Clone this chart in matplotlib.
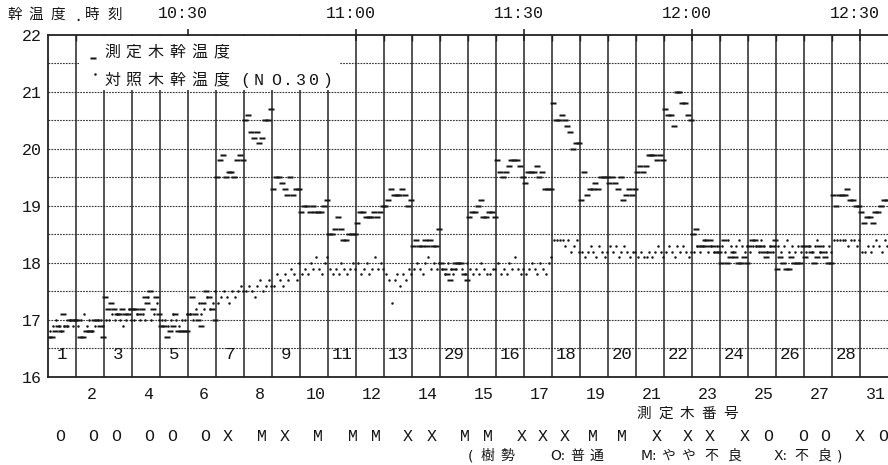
import numpy as np
import matplotlib
matplotlib.use('Agg')
import matplotlib.pyplot as plt
from matplotlib.patches import Rectangle
from matplotlib.transforms import blended_transform_factory

W, H = 888, 465
CJK = ['Noto Sans CJK JP', 'DejaVu Sans']
MONO = ['Liberation Mono', 'DejaVu Sans Mono']

# ---------------- data ----------------
# tree number measured in each 5-minute segment (10:05 .. 12:35)
seg_trees = [1, 2, 3, 4, 5, 6, 7, 8, 9, 10, 11, 12, 13, 14, 29,
             15, 16, 17, 18, 19, 20, 21, 22, 23, 24, 25, 26, 27, 28, 31]
# tree vigor (O: normal, M: slightly poor, X: poor)
vigor = list("OOOOOOXMXMMMXXMMXXXMMXXXXOOOXO")
time_ticks = [30, 60, 90, 120, 150]          # minutes after 10:00
time_labels = ['10:30', '11:00', '11:30', '12:00', '12:30']
y_ticks = [16, 17, 18, 19, 20, 21, 22]

# measured tree stem temperature (10 readings per segment)
measured = [
    [16.7, 16.7, 16.8, 16.9, 16.8, 17.1, 16.9, 17.0, 17.0, 17.0],
    [17.0, 16.7, 16.7, 16.8, 16.8, 16.8, 17.0, 17.0, 16.9, 16.7],
    [17.4, 17.2, 17.3, 17.2, 17.1, 17.1, 17.2, 17.1, 17.1, 17.2],
    [17.2, 17.2, 17.1, 17.2, 17.4, 17.3, 17.5, 17.2, 17.4, 17.1],
    [16.9, 16.9, 16.7, 16.8, 16.9, 17.1, 16.8, 16.8, 16.8, 16.8],
    [17.1, 17.4, 17.1, 17.0, 16.9, 17.3, 17.5, 17.4, 17.2, 17.0],
    [19.5, 19.8, 19.9, 19.5, 19.6, 19.6, 19.5, 19.8, 19.9, 19.8],
    [20.5, 20.6, 20.3, 20.2, 20.3, 20.1, 20.2, 20.5, 20.5, 20.7],
    [19.3, 19.5, 19.5, 19.4, 19.3, 19.2, 19.5, 19.2, 19.3, 19.3],
    [18.9, 19.0, 19.0, 18.9, 19.0, 18.9, 18.9, 18.9, 19.0, 19.1],
    [18.5, 18.5, 18.6, 18.8, 18.6, 18.4, 18.4, 18.5, 18.5, 18.5],
    [18.7, 18.9, 18.9, 18.8, 18.8, 18.8, 18.9, 18.8, 18.9, 19.0],
    [19.0, 19.1, 19.3, 19.2, 19.2, 19.2, 19.3, 19.2, 19.0, 19.1],
    [18.3, 18.4, 18.3, 18.3, 18.4, 18.3, 18.4, 18.3, 18.3, 18.6],
    [18.0, 17.9, 17.8, 17.7, 17.9, 18.0, 18.0, 18.0, 17.8, 17.7],
    [18.8, 18.9, 18.9, 19.0, 19.1, 18.8, 18.8, 18.9, 18.9, 18.8],
    [19.8, 19.6, 19.5, 19.6, 19.7, 19.8, 19.8, 19.8, 19.7, 19.5],
    [19.4, 19.6, 19.6, 19.6, 19.7, 19.5, 19.6, 19.3, 19.3, 19.3],
    [20.8, 20.5, 20.5, 20.6, 20.5, 20.4, 20.3, 20.0, 20.1, 20.1],
    [19.1, 19.6, 19.2, 19.3, 19.3, 19.4, 19.3, 19.5, 19.5, 19.5],
    [19.4, 19.5, 19.4, 19.3, 19.5, 19.1, 19.2, 19.3, 19.2, 19.3],
    [19.6, 19.7, 19.6, 19.7, 19.9, 19.9, 19.9, 19.8, 19.9, 19.8],
    [20.7, 20.6, 20.6, 20.4, 21.0, 21.0, 20.8, 20.8, 20.6, 20.5],
    [18.5, 18.6, 18.3, 18.3, 18.4, 18.3, 18.4, 18.3, 18.2, 18.2],
    [18.0, 18.4, 18.0, 18.1, 18.2, 18.1, 18.0, 18.0, 18.1, 18.0],
    [18.3, 18.4, 18.4, 18.3, 18.3, 18.2, 18.1, 18.2, 18.3, 18.4],
    [17.9, 18.1, 18.0, 17.9, 17.9, 18.1, 18.0, 18.0, 18.0, 18.3],
    [18.1, 18.3, 18.2, 18.0, 18.1, 18.3, 18.2, 18.1, 18.0, 18.0],
    [19.2, 19.0, 19.2, 19.2, 19.2, 19.3, 19.1, 19.1, 19.0, 19.0],
    [18.9, 18.7, 18.8, 18.8, 18.7, 18.9, 18.9, 19.0, 19.1, 19.1],
]

# control tree (NO.30) stem temperature
control = [
    [16.8, 16.9, 17.0, 16.9, 16.8, 16.9, 16.9, 17.0, 16.9, 17.0],
    [16.9, 17.0, 17.1, 16.9, 17.0, 16.8, 16.9, 17.0, 17.0, 16.9],
    [17.0, 17.0, 17.1, 17.0, 17.1, 17.0, 16.9, 17.0, 17.2, 17.0],
    [17.0, 17.1, 17.0, 17.1, 17.0, 17.4, 17.0, 17.1, 17.3, 17.0],
    [17.0, 17.0, 16.9, 17.0, 17.1, 17.0, 16.9, 17.0, 17.0, 17.1],
    [17.1, 17.0, 17.2, 17.3, 17.1, 17.2, 17.4, 17.2, 17.3, 17.5],
    [17.3, 17.4, 17.5, 17.4, 17.3, 17.5, 17.4, 17.5, 17.6, 17.5],
    [17.5, 17.6, 17.5, 17.4, 17.6, 17.7, 17.5, 17.6, 17.7, 17.6],
    [17.6, 17.8, 17.7, 17.6, 17.8, 17.7, 17.9, 17.8, 17.7, 18.0],
    [17.8, 17.9, 17.8, 18.0, 17.9, 18.1, 17.9, 17.8, 18.0, 18.1],
    [17.9, 17.8, 17.9, 17.8, 18.0, 17.9, 17.8, 17.9, 18.0, 17.9],
    [18.0, 17.8, 17.9, 18.0, 17.8, 17.9, 18.1, 17.9, 18.0, 17.9],
    [17.8, 17.7, 17.3, 17.7, 17.8, 17.6, 17.8, 17.7, 17.9, 17.8],
    [17.9, 18.0, 17.9, 17.8, 18.0, 18.1, 17.9, 18.0, 17.9, 18.0],
    [17.9, 17.8, 18.0, 17.9, 17.8, 17.9, 18.0, 17.9, 17.8, 18.0],
    [17.9, 17.8, 17.9, 17.8, 18.0, 17.9, 17.8, 17.8, 17.9, 17.9],
    [18.0, 17.8, 17.9, 17.8, 18.0, 17.9, 18.1, 17.9, 17.8, 17.9],
    [17.8, 17.9, 18.0, 17.9, 17.8, 18.0, 17.9, 17.8, 18.0, 18.1],
    [18.4, 18.4, 18.4, 18.4, 18.3, 18.4, 18.2, 18.3, 18.4, 18.2],
    [18.2, 18.1, 18.2, 18.3, 18.2, 18.1, 18.3, 18.2, 18.1, 18.2],
    [18.3, 18.2, 18.3, 18.1, 18.2, 18.3, 18.2, 18.1, 18.2, 18.2],
    [18.1, 18.2, 18.1, 18.1, 18.2, 18.1, 18.2, 18.3, 18.2, 18.1],
    [18.2, 18.3, 18.2, 18.1, 18.3, 18.2, 18.3, 18.2, 18.1, 18.2],
    [18.2, 18.3, 18.2, 18.3, 18.4, 18.2, 18.3, 18.2, 18.3, 18.3],
    [18.3, 18.2, 18.4, 18.3, 18.2, 18.3, 18.4, 18.3, 18.2, 18.3],
    [18.2, 18.3, 18.3, 18.2, 18.4, 18.3, 18.2, 18.3, 18.2, 18.3],
    [18.3, 18.2, 18.3, 18.4, 18.2, 18.3, 18.2, 18.3, 18.2, 18.3],
    [18.2, 18.3, 18.2, 18.3, 18.4, 18.2, 18.3, 18.2, 18.3, 18.2],
    [18.4, 18.4, 18.4, 18.4, 18.4, 18.3, 18.4, 18.4, 18.3, 18.4],
    [18.2, 18.2, 18.3, 18.2, 18.3, 18.4, 18.3, 18.2, 18.4, 18.3],
]

# ---------------- layout helpers ----------------
SEG_START = 5.0      # minutes after 10:00 at left edge
SEG_LEN = 5.0

fig = plt.figure(figsize=(W / 100, H / 100), dpi=100)
fig.patch.set_facecolor('white')
ax = fig.add_axes([48 / W, 1 - 377 / H, 840 / W, 342 / H])
ax.set_facecolor('white')
n_seg = len(seg_trees)
ax.set_xlim(SEG_START, SEG_START + SEG_LEN * n_seg)
ax.set_ylim(16, 22)

ink = '#161616'

# grid
for yv in np.arange(16.5, 22.0, 0.5):
    ax.axhline(yv, color='#3a3a3a', lw=0.8, ls=(0, (1.6, 1.0)), zorder=1)
for k in range(1, n_seg):
    ax.axvline(SEG_START + SEG_LEN * k, color='#262626', lw=1.1, zorder=1.5)

# legend background (covers grid)
ax.add_patch(Rectangle((10.6, 21.04), 46.6, 0.94, facecolor='white',
                       edgecolor='none', zorder=2))

# data
dash = [(-1, -0.45), (1, -0.45), (1, 0.45), (-1, 0.45), (-1, -0.45)]
for k in range(n_seg):
    t0 = SEG_START + SEG_LEN * k
    m = measured[k]
    c = control[k]
    tm = t0 + (np.arange(len(m)) + 0.5) * SEG_LEN / len(m)
    tc = t0 + (np.arange(len(c)) + 0.8) * SEG_LEN / len(c)
    ax.plot(tm, m, ls='none', marker=dash, ms=4.0, mfc=ink, mec='none', zorder=3)
    ax.plot(tc, c, ls='none', marker='o', ms=1.8, mfc=ink, mec='none', zorder=3)

# spines
for s in ['left', 'bottom', 'top']:
    ax.spines[s].set_color('#222222')
    ax.spines[s].set_linewidth(1.3)
ax.spines['right'].set_visible(False)

# y ticks
ax.set_yticks(y_ticks)
ax.set_yticklabels([str(v) for v in y_ticks], family=MONO, fontsize=12, color=ink)
ax.tick_params(axis='y', length=0, pad=4.5)

# top time ticks
ax.xaxis.tick_top()
ax.set_xticks(time_ticks)
ax.set_xticklabels([])
ax.set_xticks([SEG_START + SEG_LEN * k for k in range(1, n_seg)], minor=True)
ax.tick_params(axis='x', which='major', direction='inout', length=9, width=1.2, color='#222')
ax.tick_params(axis='x', which='minor', direction='in', length=4, width=1.0, color='#222')

trx = blended_transform_factory(ax.transData, fig.transFigure)
px_per_min = 840 / (SEG_LEN * n_seg)
for t, lab in zip(time_ticks, time_labels):
    ax.text(t - 5 / px_per_min, 1 - 14 / H, lab, transform=trx, ha='center', va='center',
            family=MONO, fontsize=12, color=ink, clip_on=False)

# tree number labels
for k, tree in enumerate(seg_trees):
    xc = SEG_START + SEG_LEN * (k + 0.5)
    if k % 2 == 0:
        ax.text(xc, 16 + 22 / 56.9, str(tree), ha='center', va='center',
                family=MONO, fontsize=12.5, color=ink, zorder=4)
    else:
        ax.text(xc + 2 / px_per_min, 1 - 394 / H, str(tree), transform=trx, ha='center',
                va='center', family=MONO, fontsize=12, color=ink, clip_on=False)

# vigor row
vigor_x_px = [60, 93, 116, 149, 172, 205, 228, 262, 285, 318, 353, 376, 408, 432, 465,
              488, 522, 543, 565, 593, 622, 657, 688, 710, 745, 768, 803, 825, 860, 883]
for xp, v in zip(vigor_x_px, vigor):
    fig.text(xp / W, 1 - 436 / H, v, ha='center', va='center', family=MONO,
             fontsize=12, color=ink)


def put_chars(s, xs, y, size, fam=CJK):
    for ch, xp in zip(s, xs):
        fig.text(xp / W, 1 - y / H, ch, ha='center', va='center', family=fam,
                 fontsize=size, color=ink)


# header
put_chars("幹温度", [14.5, 36, 57.5], 15, 10.5)
put_chars(".", [78], 17, 11, MONO)
put_chars("時刻", [92.5, 114.5], 15, 10.5)

# legend
ax.plot([12.95], [16 + (377 - 58) / 57.0], ls='none', marker=dash, ms=4.0,
        mfc=ink, mec='none', zorder=5, clip_on=False)
ax.plot([13.4], [16 + (377 - 74) / 57.0], ls='none', marker='o', ms=1.8,
        mfc=ink, mec='none', zorder=5, clip_on=False)
step = 21.8
put_chars("測定木幹温度", [112 + step * i for i in range(6)], 52, 11.5)
put_chars("対照木幹温度", [112 + step * i for i in range(6)], 80, 11.5)
put_chars("(NO.30)", [245, 259, 276, 288, 301, 314, 327], 80, 12, MONO)

# x axis title
put_chars("測定木番号", [644 + 21.7 * i for i in range(5)], 414, 10.5)

# vigor legend
note = ["(", "樹", "勢", "O:", "普", "通", "M:", "や", "や", "不", "良",
        "X:", "不", "良", ")"]
note_x = [470.5, 487, 507, 558, 577, 597, 649, 668, 688, 711, 735,
          781, 801, 825, 840]
for tok, xp in zip(note, note_x):
    cjk = ord(tok[0]) > 255
    fig.text(xp / W, 1 - 456 / H, tok, ha='center', va='center',
             family=CJK if cjk else ['DejaVu Sans'],
             fontsize=10 if cjk else 10, color=ink)

fig.savefig('out.png', dpi=100, facecolor='white')
